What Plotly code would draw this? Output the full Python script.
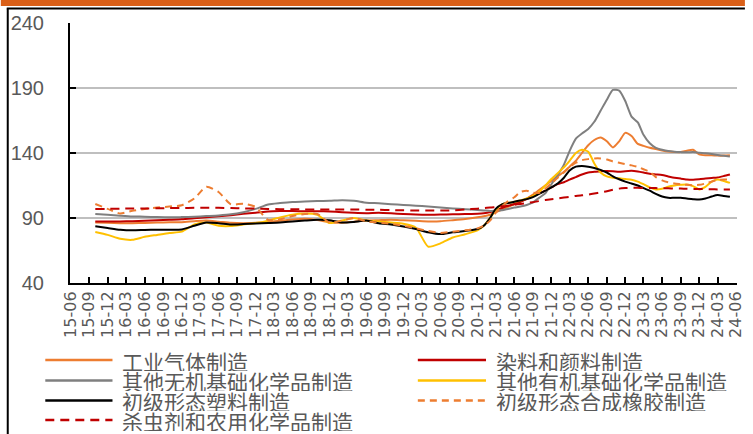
import pandas as pd
import plotly.graph_objects as go

# Monthly index values: every two months up to 2020-12, monthly afterwards
dates = list(pd.date_range("2015-10-01", "2020-12-01", freq="2MS")) + \
        list(pd.date_range("2021-01-01", "2024-05-01", freq="MS"))

# Quarter labels on the category axis
tick_dates = list(pd.date_range("2015-06-01", "2024-06-01", freq="3MS"))
tick_text = [d.strftime("%y-%m") for d in tick_dates]

y_ticks = [40, 90, 140, 190, 240]

series_names = [
    "工业气体制造",
    "染料和颜料制造",
    "其他无机基础化学品制造",
    "其他有机基础化学品制造",
    "初级形态塑料制造",
    "初级形态合成橡胶制造",
    "杀虫剂和农用化学品制造",
]

industrial_gas = [
    86.5, 86.3, 86, 86, 86.2, 86.5, 86.7, 86.8, 87.5, 88,
    87.2, 86.3, 86, 86.3, 86.9, 87.8, 88.8, 89.5, 88.5, 86.8,
    86.3, 87.2, 88, 88.3, 88.6, 88.2, 87.8, 87.4, 87.5, 88.3,
    89.2, 90.5,
    91.3, 92.5, 94.5, 96.5, 98.5, 100.5, 102.5, 105, 108, 111.5,
    115, 118.5, 122, 125.5, 129.5, 134, 140, 146, 150, 152,
    149, 144.3, 149, 155.5, 153, 147, 145.5, 144, 143, 142,
    141.2, 140.8, 140.7, 141.8, 142.5, 139, 138.3, 138.2, 138, 138, 138.2,
]

dyes_pigments = [
    87.4, 87.4, 87.4, 87.5, 87.8, 88.2, 88.6, 89, 89.8, 90.6,
    91.3, 92.2, 93.2, 94, 95, 95.3, 95.3, 95.2, 95.2, 95,
    94.5, 94, 93.7, 94, 93.6, 93, 92.6, 92.5, 92.6, 92.8,
    93, 93.2,
    93.6, 94.5, 96, 97.7, 99.3, 100.8, 102.5, 104.5, 107, 109,
    111, 113.5, 116, 117.5, 119.5, 121.5, 123.5, 125, 125.5, 126,
    126.2, 126, 125.5, 126, 126.3, 125.8, 125, 124, 123.5, 123,
    122, 121, 120.3, 119.7, 119.5, 119.8, 120.3, 120.8, 121.2, 122.3, 123.5,
]

inorganic_basic = [
    93, 92.5, 91.8, 91.2, 91, 90.7, 90.5, 90.7, 91, 91.5,
    92, 92.8, 94.5, 97, 100.4, 101.5, 102.3, 102.6, 103, 103.2,
    103.7, 103.3, 101.8, 101.3, 100.6, 100, 99.5, 98.8, 98, 97.3,
    96.8, 96.2,
    95.8, 95.4, 95.5, 96, 97, 98, 98.8, 100, 102, 105.5,
    109, 116, 123, 131, 141.5, 151, 155, 158.5, 164, 172.5,
    181, 188.5, 188, 180, 168, 163.5, 154, 147.5, 144, 142.5,
    141.5, 141, 140.7, 140.5, 140.7, 140.2, 139.8, 139.2, 138.5, 137.8, 137.3,
]

organic_basic = [
    79.2, 77, 74, 73.2, 75.5, 77, 78.5, 79.5, 85, 86.5,
    84, 83.8, 85, 86.1, 88, 90.5, 92.6, 93.4, 92.5, 86.1,
    88, 90, 88, 87.4, 86.5, 85.5, 82.5, 68, 70.5, 75,
    77.5, 80.5,
    84, 90, 96, 100.5, 101.5, 102.5, 103.5, 105, 107, 110,
    115, 120, 124.5, 129, 134, 140, 142.5, 141, 132, 125,
    122, 121, 120.5, 120, 119.5, 118, 116, 113.5, 112, 112.5,
    114, 115, 115.5, 115.8, 114.5, 112, 114, 118, 119.6, 118.5, 117,
]

primary_plastics = [
    83.6, 82.3, 81, 80.5, 80.8, 81, 81, 81.2, 84, 86.5,
    86, 85, 85.3, 85.7, 86.1, 86.5, 87.3, 88, 88.6, 88.3,
    86.5, 87, 88, 86, 85, 83.5, 81.5, 79, 77.6, 79,
    80, 81.5,
    84, 90, 97, 100.5, 101.5, 102.5, 103.5, 104.5, 106, 108.5,
    111, 113.5, 116.5, 121, 126.5, 129.5, 130, 129.5, 128.5, 127,
    125, 122, 119.8, 118, 116.5, 115, 113, 111, 108.5, 106.5,
    105.5, 105.5, 105.5, 105, 104.5, 104.2, 105, 106.5, 107.6, 107, 106.3,
]

synthetic_rubber = [
    100.8, 97, 93.5, 95.5, 97, 98, 98.8, 99.8, 105, 114,
    110, 100.5, 101, 98.5, 88.5, 89, 91.5, 93, 93.2, 86.5,
    88, 90, 87.5, 86.5, 85.5, 84, 82, 80, 78.5, 79.5,
    80.5, 82,
    84, 88, 94, 99, 103, 106, 110, 111, 109.5, 109.3,
    112.5, 116.5, 121, 125, 129, 132.5, 134.5, 135.3, 135.8, 135.8,
    135, 133.5, 132.5, 131.5, 130.5, 129.3, 127.5, 125.5, 121.5, 119,
    117.5, 116.5, 116, 115.5, 115.2, 115.5, 116.5, 118, 119.3, 119.6, 119.6,
]

pesticides = [
    97, 97, 97.2, 97.3, 97.3, 97.5, 97.6, 97.7, 97.8, 97.8,
    97.8, 97.6, 97.4, 97.2, 97, 96.8, 96.7, 96.6, 96.6, 96.5,
    96.5, 96.5, 96.4, 96.3, 96.1, 95.9, 95.8, 95.7, 95.7, 95.9,
    96.5, 97.2,
    97.6, 98, 98.5, 99, 99.5, 100.2, 100.8, 101.5, 102.2, 103,
    103.8, 104.4, 105, 105.7, 106.3, 107, 107.5, 108, 108.8, 109.7,
    110.6, 111.7, 112.6, 113, 113.2, 113.2, 113.1, 113, 113, 112.9,
    112.8, 112.7, 112.6, 112.5, 112.4, 112.3, 112.2, 112.1, 112, 112, 112,
]

series_values = [industrial_gas, dyes_pigments, inorganic_basic, organic_basic,
                 primary_plastics, synthetic_rubber, pesticides]

line_styles = [
    dict(color="#ED7D31", dash="solid"),
    dict(color="#C00000", dash="solid"),
    dict(color="#7F7F7F", dash="solid"),
    dict(color="#FFC000", dash="solid"),
    dict(color="#000000", dash="solid"),
    dict(color="#ED7D31", dash="7px,5px"),
    dict(color="#C00000", dash="9px,6px"),
]

TEXT_GREY = "#595959"

fig = go.Figure()
for name, vals, st in zip(series_names, series_values, line_styles):
    fig.add_trace(go.Scatter(
        x=dates, y=vals, mode="lines", name=name, showlegend=False,
        line=dict(color=st["color"], dash=st["dash"], width=2,
                  shape="spline", smoothing=0.6),
    ))

# Plot-area geometry in pixels, used to place decorations in paper space
L, R, T, B = 70, 8, 23, 151
W, H = 753, 434
PW, PH = W - L - R, H - T - B


def px_x(px):
    return (px - L) / PW


def px_y(py):
    return (H - B - py) / PH


shapes = [
    # orange header band
    dict(type="rect", xref="paper", yref="paper", x0=px_x(0), x1=px_x(W),
         y0=px_y(6), y1=px_y(0), fillcolor="#D95F18", line=dict(width=0), layer="above"),
    # frame lines
    dict(type="line", xref="paper", yref="paper", x0=px_x(6), x1=px_x(W),
         y0=px_y(8.5), y1=px_y(8.5), line=dict(color="black", width=2)),
    dict(type="line", xref="paper", yref="paper", x0=px_x(7), x1=px_x(7),
         y0=px_y(8.5), y1=px_y(H), line=dict(color="black", width=2)),
]

annotations = []
# two-column legend under the axis
col_x = [(45, 113, 122), (422, 491, 500)]
row_y = [360, 380.5, 400.5, 420]
for i, (name, st) in enumerate(zip(series_names, line_styles)):
    c, r = i % 2, i // 2
    x0, x1, xt = col_x[c]
    y = row_y[r]
    shapes.append(dict(type="line", xref="paper", yref="paper",
                       x0=px_x(x0), x1=px_x(x1), y0=px_y(y), y1=px_y(y),
                       line=dict(color=st["color"], width=2.5,
                                 dash=None if st["dash"] == "solid" else st["dash"])))
    annotations.append(dict(xref="paper", yref="paper", x=px_x(xt), y=px_y(y),
                            text=name, showarrow=False, xanchor="left", yanchor="middle",
                            height=21, valign="middle", borderpad=0,
                            font=dict(family="Noto Sans CJK SC", size=21, color=TEXT_GREY)))

fig.update_layout(
    width=W, height=H,
    margin=dict(l=L, r=R, t=T, b=B, pad=0),
    paper_bgcolor="white", plot_bgcolor="white",
    showlegend=False,
    shapes=shapes, annotations=annotations,
    xaxis=dict(
        type="date", range=["2015-05-29", "2024-06-05"],
        tickmode="array", tickvals=tick_dates, ticktext=tick_text, tickangle=-90,
        ticks="inside", ticklen=6, tickwidth=1.5, tickcolor="black",
        showline=True, linecolor="black", linewidth=2,
        showgrid=False, zeroline=False, ticklabeloverflow="allow",
        tickfont=dict(family="DejaVu Sans", size=16, color=TEXT_GREY),
    ),
    yaxis=dict(
        range=[40, 240], tickmode="array", tickvals=y_ticks,
        ticks="inside", ticklen=6, tickwidth=2, tickcolor="black",
        showline=True, linecolor="black", linewidth=2,
        showgrid=True, gridcolor="#BFBFBF", gridwidth=2, zeroline=False,
        ticklabelstandoff=20,
        tickfont=dict(family="Liberation Sans", size=20, color=TEXT_GREY),
    ),
)

fig.write_html("out.html")
